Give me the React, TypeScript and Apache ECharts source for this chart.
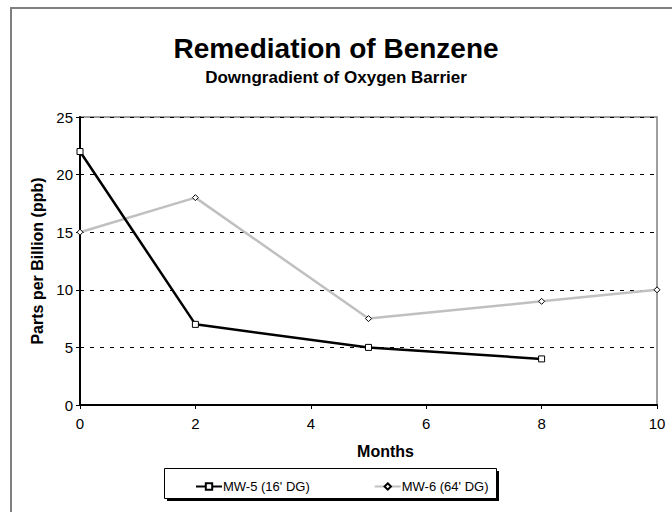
import React, { useEffect, useRef } from "react";
import * as echarts from "echarts";

const months5 = [0, 2, 5, 8];
const mw5 = [22, 7, 5, 4];
const months6 = [0, 2, 5, 8, 10];
const mw6 = [15, 18, 7.5, 9, 10];
const seriesNames = ["MW-5 (16' DG)", "MW-6 (64' DG)"];
const titleText = "Remediation of Benzene";
const subtitleText = "Downgradient of Oxygen Barrier";

const FONT = "Arial";

export default function App() {
  const ref = useRef<HTMLDivElement>(null);
  useEffect(() => {
    if (!ref.current) return;
    const chart = echarts.init(ref.current, undefined, { renderer: "svg" });
    chart.setOption({
      animation: false,
      backgroundColor: "#ffffff",
      title: {
        text: titleText,
        subtext: subtitleText,
        left: "center",
        top: 29,
        itemGap: 7,
        textStyle: { fontFamily: FONT, fontWeight: "bold", fontSize: 28, color: "#000" },
        subtextStyle: { fontFamily: FONT, fontWeight: "bold", fontSize: 17, color: "#000" },
      },
      graphic: [
        {
          type: "rect",
          shape: { x: 11, y: 8, width: 700, height: 600 },
          style: { fill: "none", stroke: "#808080", lineWidth: 2 },
          silent: true,
          z: -1,
        },
        {
          type: "rect",
          shape: { x: 167, y: 471, width: 332, height: 30 },
          style: { fill: "#000" },
          silent: true,
          z: -1,
        },
        {
          type: "rect",
          shape: { x: 164.5, y: 468.5, width: 332, height: 30 },
          style: { fill: "#fff", stroke: "#000", lineWidth: 1 },
          silent: true,
          z: -1,
        },
      ],
      legend: {
        data: seriesNames,
        left: 190,
        top: 475,
        itemWidth: 26,
        itemHeight: 8,
        itemGap: 64,
        textStyle: { fontFamily: FONT, fontSize: 13, color: "#000", padding: [0, 0, 0, -4] },
      },
      grid: {
        left: 80,
        right: 15,
        top: 117,
        bottom: 107,
        show: true,
        borderColor: "#808080",
        borderWidth: 1.5,
        backgroundColor: "transparent",
      },
      xAxis: {
        type: "value",
        min: 0,
        max: 10,
        interval: 2,
        name: "Months",
        nameLocation: "middle",
        nameGap: 38,
        nameTextStyle: {
          fontFamily: FONT,
          fontWeight: "bold",
          fontSize: 16,
          color: "#000",
          padding: [0, 0, 0, 34],
        },
        axisLine: { show: true, onZero: false, lineStyle: { color: "#000", width: 2 } },
        axisTick: { show: true, inside: false, length: 4, lineStyle: { color: "#000", width: 1 } },
        axisLabel: { fontFamily: FONT, fontSize: 15, color: "#000", margin: 11 },
        splitLine: { show: false },
      },
      yAxis: {
        type: "value",
        min: 0,
        max: 25,
        interval: 5,
        name: "Parts per Billion (ppb)",
        nameLocation: "middle",
        nameGap: 33,
        nameTextStyle: { fontFamily: FONT, fontWeight: "bold", fontSize: 16, color: "#000" },
        axisLine: { show: true, lineStyle: { color: "#000", width: 2 } },
        axisTick: { show: true, inside: false, length: 4, lineStyle: { color: "#000", width: 1 } },
        axisLabel: { fontFamily: FONT, fontSize: 15, color: "#000", margin: 7 },
        splitLine: { show: true, lineStyle: { color: "#000", width: 1, type: [4, 6] } },
      },
      series: [
        {
          name: seriesNames[0],
          type: "line",
          data: months5.map((m, i) => [m, mw5[i]]),
          symbol: "rect",
          symbolSize: 6,
          showAllSymbol: true,
          lineStyle: { color: "#000", width: 2.5 },
          itemStyle: { color: "#fff", borderColor: "#000", borderWidth: 1 },
          z: 3,
        },
        {
          name: seriesNames[1],
          type: "line",
          data: months6.map((m, i) => [m, mw6[i]]),
          symbol: "diamond",
          symbolSize: 6,
          showAllSymbol: true,
          lineStyle: { color: "#c0c0c0", width: 2.5 },
          itemStyle: { color: "#fff", borderColor: "#000", borderWidth: 1 },
          z: 2,
        },
      ],
    });
    return () => chart.dispose();
  }, []);
  return (
    <div
      ref={ref}
      style={{ position: "fixed", left: 0, top: 0, width: 672, height: 512 }}
    />
  );
}
